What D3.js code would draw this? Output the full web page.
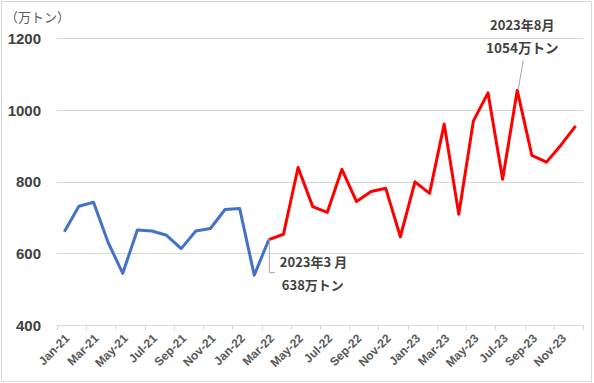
<!DOCTYPE html>
<html>
<head>
<meta charset="utf-8">
<script src="https://cdn.jsdelivr.net/npm/d3@7/dist/d3.min.js"></script>
<style>
  html, body { margin: 0; padding: 0; background: #fff; }
  svg { display: block; }
</style>
</head>
<body>
<svg id="chart" width="594" height="383"></svg>
<script>
// ---- data ----
const months = [
  "Jan-21","Feb-21","Mar-21","Apr-21","May-21","Jun-21","Jul-21","Aug-21","Sep-21","Oct-21","Nov-21","Dec-21",
  "Jan-22","Feb-22","Mar-22","Apr-22","May-22","Jun-22","Jul-22","Aug-22","Sep-22","Oct-22","Nov-22","Dec-22",
  "Jan-23","Feb-23","Mar-23","Apr-23","May-23","Jun-23","Jul-23","Aug-23","Sep-23","Oct-23","Nov-23","Dec-23"
];
// blue series: Jan-21 .. Mar-22
const blueValues = [660, 731, 742, 630, 544, 665, 662, 650, 613, 662, 669, 722, 725, 539, 638];
// red series: Apr-22 .. Dec-23 (drawn continuing from Mar-22)
const redValues = [653, 839, 730, 714, 834, 744, 772, 781, 646, 799, 767, 960, 709, 969, 1047, 806, 1054, 873, 854, 902, 955];
const xTickLabels = ["Jan-21","Mar-21","May-21","Jul-21","Sep-21","Nov-21","Jan-22","Mar-22","May-22",
  "Jul-22","Sep-22","Nov-22","Jan-23","Mar-23","May-23","Jul-23","Sep-23","Nov-23"];
const yTicks = [400, 600, 800, 1000, 1200];
const unitLabel = "（万トン）";
const annotations = [
  { month: "Mar-22", value: 638, line1: "2023年3 月", line2: "638万トン" },
  { month: "Aug-23", value: 1054, line1: "2023年8月", line2: "1054万トン" }
];

// ---- chart ----
(function () {
const svg = d3.select("#chart");
const pL = 57, pR = 583, pT = 38, pB = 325;

svg.append("rect").attr("x", 1.5).attr("y", 1.5).attr("width", 590).attr("height", 380)
  .attr("fill", "#fff").attr("stroke", "#d9d9d9").attr("stroke-width", 1);

const x = d3.scaleBand().domain(months).range([pL, pR]).padding(0);
const cx = m => x(m) + x.bandwidth() / 2;
const y = d3.scaleLinear().domain([400, 1200]).range([pB, pT]);

const numFont = "'Liberation Sans', Arial, sans-serif";
const cjkFont = "'Noto Sans CJK JP', 'Liberation Sans', sans-serif";

// gridlines
svg.append("g").selectAll("line").data(yTicks.filter(v => v !== 400)).join("line")
  .attr("x1", pL).attr("x2", pR)
  .attr("y1", d => Math.round(y(d)) + 0.5).attr("y2", d => Math.round(y(d)) + 0.5)
  .attr("stroke", "#d9d9d9").attr("stroke-width", 1);

// y axis labels
const yAxis = d3.axisLeft(y).tickValues(yTicks).tickSize(0).tickPadding(0).tickFormat(d3.format("d"));
const yg = svg.append("g").attr("transform", `translate(41,0)`).call(yAxis);
yg.select(".domain").remove();
yg.selectAll("text").attr("font-family", numFont).attr("font-weight", "bold")
  .attr("font-size", "15px").attr("fill", "#404040").attr("dy", "0.35em");

// unit label
svg.append("text").attr("x", 5).attr("y", 22).text(unitLabel)
  .attr("font-family", cjkFont).attr("font-size", "13px").attr("fill", "#595959");

// x axis
const tickPos = months.filter((m, i) => i % 2 === 0).map(m => x(m)).concat([pR]);
const xg = svg.append("g");
xg.append("line").attr("x1", pL).attr("x2", pR).attr("y1", pB + 0.5).attr("y2", pB + 0.5)
  .attr("stroke", "#d9d9d9");
xg.selectAll("line.tick").data(tickPos).join("line").attr("class", "tick")
  .attr("x1", d => Math.round(d) + 0.5).attr("x2", d => Math.round(d) + 0.5)
  .attr("y1", pB).attr("y2", pB + 5).attr("stroke", "#d9d9d9");

const xAxis = d3.axisBottom(x).tickValues(xTickLabels).tickSize(0).tickPadding(0);
const xag = svg.append("g").attr("transform", `translate(0,${pB})`).call(xAxis);
xag.select(".domain").remove();
xag.selectAll("text")
  .attr("font-family", numFont).attr("font-weight", "bold").attr("font-size", "12px")
  .attr("fill", "#595959")
  .attr("text-anchor", "end")
  .attr("dy", "0")
  .attr("y", 0)
  .attr("transform", "translate(6,14) rotate(-45)");

// lines
const line = d3.line().x(d => cx(d.m)).y(d => y(d.v));
const blueData = blueValues.map((v, i) => ({ m: months[i], v }));
const redData = [blueData[blueData.length - 1]].concat(
  redValues.map((v, i) => ({ m: months[blueValues.length + i], v })));

svg.append("path").datum(blueData).attr("d", line)
  .attr("fill", "none").attr("stroke", "#4472C4").attr("stroke-width", 3).attr("stroke-linejoin", "round");
svg.append("path").datum(redData).attr("d", line)
  .attr("fill", "none").attr("stroke", "#FF0000").attr("stroke-width", 3).attr("stroke-linejoin", "round");

// annotations
const a1 = annotations[0];
const p1x = cx(a1.month), p1y = y(a1.value);
svg.append("path")
  .attr("d", `M${p1x + 0.5},${p1y} L${p1x + 0.5},${p1y + 33} L${p1x + 6},${p1y + 33}`)
  .attr("fill", "none").attr("stroke", "#a6a6a6").attr("stroke-width", 1);
svg.append("text").attr("x", p1x + 11).attr("y", p1y + 27).text(a1.line1)
  .attr("font-family", cjkFont).attr("font-weight", "bold").attr("font-size", "13px").attr("fill", "#404040");
svg.append("text").attr("x", p1x + 13).attr("y", p1y + 50).text(a1.line2)
  .attr("font-family", cjkFont).attr("font-weight", "bold").attr("font-size", "13px").attr("fill", "#404040");

const a2 = annotations[1];
const p2x = cx(a2.month), p2y = y(a2.value);
svg.append("line").attr("x1", p2x + 1).attr("y1", p2y - 1).attr("x2", p2x + 6).attr("y2", p2y - 30)
  .attr("stroke", "#a6a6a6").attr("stroke-width", 1);
svg.append("text").attr("x", p2x + 5).attr("y", 30).attr("text-anchor", "middle").text(a2.line1)
  .attr("font-family", cjkFont).attr("font-weight", "bold").attr("font-size", "13px").attr("fill", "#404040");
svg.append("text").attr("x", p2x + 5).attr("y", 53).attr("text-anchor", "middle").text(a2.line2)
  .attr("font-family", cjkFont).attr("font-weight", "bold").attr("font-size", "13.5px").attr("fill", "#404040");
})();
</script>
</body>
</html>
